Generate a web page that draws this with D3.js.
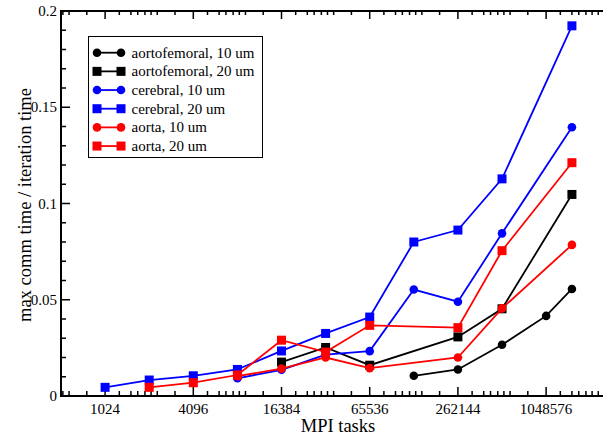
<!DOCTYPE html>
<html>
<head>
<meta charset="utf-8">
<script src="https://cdn.jsdelivr.net/npm/d3@7"></script>
<style>
  body { margin: 0; background: #fff; }
  svg { display: block; font-family: "Liberation Serif", "Times New Roman", serif; }
</style>
</head>
<body>
<svg width="603" height="438"></svg>
<script>
// MPI task counts (x) and the series values (null = no point)
var tasks = [1024, 2048, 4096, 8192, 16384, 32768, 65536, 131072, 262144, 524288, 1048576, 1572864];
var aortofemoral10 = [null, null, null, null, null, null, null, 0.0105, 0.0138, 0.0266, 0.0416, 0.0556];
var aortofemoral20 = [null, null, null, null, 0.0176, 0.0252, 0.0160, null, 0.0307, 0.0453, null, 0.1047];
var cerebral10 = [null, null, null, 0.0092, 0.0136, 0.0215, 0.0233, 0.0553, 0.0490, 0.0845, null, 0.1396];
var cerebral20 = [0.0045, 0.0083, 0.0105, 0.0138, 0.0234, 0.0325, 0.0410, 0.0800, 0.0862, 0.1128, null, 0.1923];
var aorta10 = [null, null, null, 0.0103, 0.0142, 0.0200, 0.0145, null, 0.0200, 0.0455, null, 0.0785];
var aorta20 = [null, 0.0045, 0.0069, 0.0109, 0.0290, 0.0228, 0.0367, null, 0.0355, 0.0755, null, 0.1212];

// tick labels
var xMajor = [1024, 4096, 16384, 65536, 262144, 1048576];
var xMinorFactors = [1.25, 1.5, 1.67, 1.87, 2.06, 2.27, 3];
var yMajor = [0, 0.05, 0.1, 0.15, 0.2];

var series = [
  { name: "aortofemoral, 10 um", color: "#000", shape: "circle", values: aortofemoral10 },
  { name: "aortofemoral, 20 um", color: "#000", shape: "square", values: aortofemoral20 },
  { name: "cerebral, 10 um", color: "#0000ff", shape: "circle", values: cerebral10 },
  { name: "cerebral, 20 um", color: "#0000ff", shape: "square", values: cerebral20 },
  { name: "aorta, 10 um", color: "#ff0000", shape: "circle", values: aorta10 },
  { name: "aorta, 20 um", color: "#ff0000", shape: "square", values: aorta20 }
];

var svg = d3.select("svg");
var pLeft = 61, pRight = 613, pTop = 11, pBottom = 396;

var x = d3.scaleLog().base(2).domain([512, 3000000]).range([pLeft, pRight]);
var y = d3.scaleLinear().domain([0, 0.2]).range([pBottom, pTop]);

svg.append("rect").attr("width", 603).attr("height", 438).attr("fill", "#fff");

var axes = svg.append("g").attr("stroke", "#000");

// x ticks (bottom, pointing up; top, pointing down)
var xMinor = [];
[256].concat(xMajor).concat([4194304]).forEach(function(m) {
  xMinorFactors.forEach(function(k) {
    var v = m * k;
    if (v > 512 && v < 3000000) xMinor.push(v);
  });
});
xMajor.forEach(function(v) {
  axes.append("line").attr("x1", x(v)).attr("x2", x(v)).attr("y1", pBottom).attr("y2", pBottom - 9).attr("stroke-width", 1.5);
  axes.append("line").attr("x1", x(v)).attr("x2", x(v)).attr("y1", pTop).attr("y2", pTop + 8).attr("stroke-width", 1.5);
});
xMinor.forEach(function(v) {
  axes.append("line").attr("x1", x(v)).attr("x2", x(v)).attr("y1", pBottom).attr("y2", pBottom - 5).attr("stroke-width", 1.5);
  axes.append("line").attr("x1", x(v)).attr("x2", x(v)).attr("y1", pTop).attr("y2", pTop + 4).attr("stroke-width", 1.5);
});

// y ticks
d3.range(0, 0.2001, 0.01).forEach(function(v) {
  var major = Math.abs(v / 0.05 - Math.round(v / 0.05)) < 1e-6;
  axes.append("line").attr("x1", pLeft).attr("x2", pLeft + (major ? 9 : 5))
    .attr("y1", y(v)).attr("y2", y(v)).attr("stroke-width", 1.5);
});

// frame
axes.append("rect").attr("x", pLeft).attr("y", pTop).attr("width", pRight - pLeft).attr("height", pBottom - pTop)
  .attr("fill", "none").attr("stroke-width", 2);

// tick labels
svg.append("g").selectAll("text").data(xMajor).enter().append("text")
  .attr("x", function(d) { return x(d); }).attr("y", 413.5)
  .attr("text-anchor", "middle").attr("font-size", 15).text(function(d) { return d; });

svg.append("g").selectAll("text").data(yMajor).enter().append("text")
  .attr("x", 57).attr("y", function(d) { return y(d) + 5; })
  .attr("text-anchor", "end").attr("font-size", 15).text(function(d) { return d; });

svg.append("text").attr("x", 338).attr("y", 432).attr("text-anchor", "middle")
  .attr("font-size", 18.5).text("MPI tasks");

svg.append("text").attr("transform", "translate(31,205) rotate(-90)").attr("text-anchor", "middle")
  .attr("font-size", 18.5).text("max comm time / iteration time");

// series
var line = d3.line().x(function(d) { return x(d.t); }).y(function(d) { return y(d.v); });

function marker(g, shape, color, cx, cy) {
  if (shape === "circle") {
    g.append("circle").attr("cx", cx).attr("cy", cy).attr("r", 4.3).attr("fill", color);
  } else {
    g.append("rect").attr("x", cx - 4.5).attr("y", cy - 4.5).attr("width", 9).attr("height", 9).attr("fill", color);
  }
}

var plot = svg.append("g");
series.forEach(function(s) {
  var pts = [];
  s.values.forEach(function(v, i) { if (v !== null) pts.push({ t: tasks[i], v: v }); });
  var g = plot.append("g");
  g.append("path").attr("d", line(pts)).attr("fill", "none").attr("stroke", s.color).attr("stroke-width", 1.8);
  pts.forEach(function(p) { marker(g, s.shape, s.color, x(p.t), y(p.v)); });
});

// legend
var legend = svg.append("g");
legend.append("rect").attr("x", 88.5).attr("y", 36.5).attr("width", 174).attr("height", 121)
  .attr("fill", "#fff").attr("stroke", "#000").attr("stroke-width", 1);
series.forEach(function(s, i) {
  var ly = 52.7 + i * 18.67;
  legend.append("line").attr("x1", 97).attr("x2", 121).attr("y1", ly).attr("y2", ly)
    .attr("stroke", s.color).attr("stroke-width", 1.8);
  marker(legend, s.shape, s.color, 97, ly);
  marker(legend, s.shape, s.color, 121, ly);
  legend.append("text").attr("x", 131.5).attr("y", ly + 5).attr("font-size", 15).text(s.name);
});
</script>
</body>
</html>
